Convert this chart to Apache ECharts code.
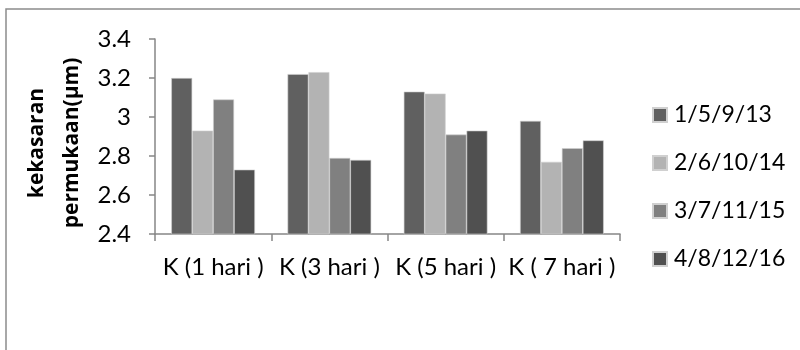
<!DOCTYPE html>
<html><head><meta charset="utf-8">
<script src="https://cdn.jsdelivr.net/npm/echarts@6/dist/echarts.min.js"></script>
<style>html,body{margin:0;padding:0;background:#fff}#c{width:800px;height:350px}</style>
</head><body><div id="c"></div>
<script>
const categories = ['K (1 hari )', 'K (3 hari )', 'K (5 hari )', 'K ( 7 hari )'];
const seriesNames = ['1/5/9/13', '2/6/10/14', '3/7/11/15', '4/8/12/16'];
const s1 = [3.20, 3.22, 3.13, 2.98];
const s2 = [2.93, 3.23, 3.12, 2.77];
const s3 = [3.09, 2.79, 2.91, 2.84];
const s4 = [2.73, 2.78, 2.93, 2.88];
const yAxisTitleLines = ['kekasaran', 'permukaan(µm)'];
const colors = ['#606060', '#b3b3b3', '#808080', '#505050'];
const values = [s1, s2, s3, s4];
const font = 'Lato, "Open Sans", sans-serif';

const titleStyle = t => ({text: t, fontFamily: '"Open Sans", sans-serif', fontSize: 21, fontWeight: 'bold', fill: '#000', align: 'center', verticalAlign: 'middle'});
const chart = echarts.init(document.getElementById('c'), null, {renderer: 'canvas'});
chart.setOption({
  animation: false,
  graphic: [
    {type: 'rect', shape: {x: 6, y: 9, width: 900, height: 400}, style: {fill: 'none', stroke: '#8c8c8c', lineWidth: 1.5}, silent: true},
    {type: 'text', x: 37, y: 143, rotation: Math.PI / 2, style: titleStyle(yAxisTitleLines[0])},
    {type: 'text', x: 72, y: 143, rotation: Math.PI / 2, style: titleStyle(yAxisTitleLines[1])}
  ],
  grid: {left: 155, right: 180, top: 39, bottom: 116},
  legend: {
    orient: 'vertical', left: 647, top: 98, itemGap: 24, itemWidth: 14, itemHeight: 14,
    icon: 'rect', data: seriesNames,
    textStyle: {fontFamily: font, fontSize: 23, lineHeight: 24, color: '#000', padding: [0, 0, 0, 2]}
  },
  xAxis: {
    type: 'category', data: categories,
    axisLine: {lineStyle: {color: '#868686', width: 1.5}},
    axisTick: {show: true, length: 7, lineStyle: {color: '#868686', width: 1.5}},
    axisLabel: {fontFamily: font, fontSize: 24, color: '#000', margin: 21, interval: 0}
  },
  yAxis: {
    type: 'value', min: 2.4, max: 3.4, interval: 0.2,
    axisLine: {show: true, lineStyle: {color: '#868686', width: 1.5}},
    axisTick: {show: true, length: 6, lineStyle: {color: '#868686', width: 1.5}},
    splitLine: {show: false},
    axisLabel: {fontFamily: font, fontSize: 24, color: '#000', margin: 24,
      formatter: v => (Math.round(v * 10) / 10).toString()}
  },
  series: seriesNames.map((n, i) => ({
    name: n, type: 'bar', data: values[i], barGap: '0%', barCategoryGap: '28%',
    itemStyle: {color: colors[i], borderColor: '#d0d0d0', borderWidth: 0.6}
  }))
});
</script></body></html>
